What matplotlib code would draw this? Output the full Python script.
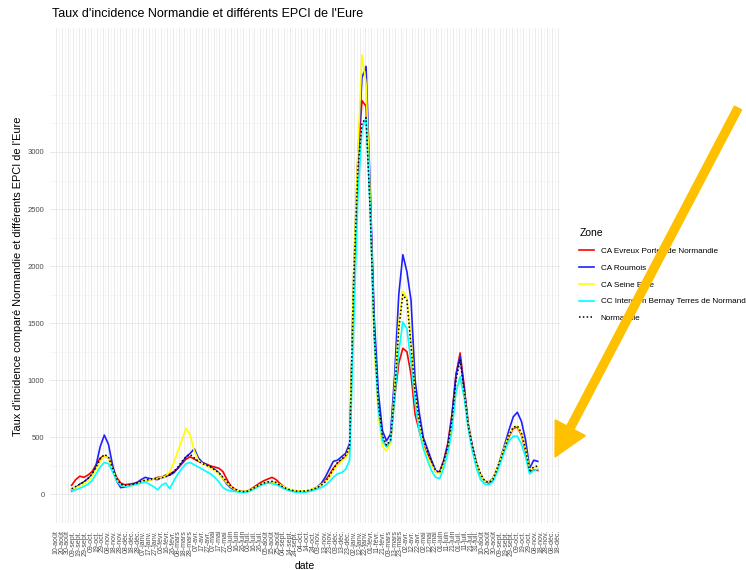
import numpy as np
import matplotlib.pyplot as plt
from matplotlib.patches import FancyArrow
from matplotlib.transforms import Affine2D

plt.rcParams['font.family'] = ['Liberation Sans', 'DejaVu Sans']

# weekly points, 2020-09-06 -> 2022-11-13
dates = np.arange(np.datetime64('2020-09-06'), np.datetime64('2022-11-14'), 7)

normandie = [50, 70, 90, 110, 140, 180, 240, 310, 350, 330,
             230, 140, 90, 80, 85, 90, 100, 115, 125, 130,
             140, 135, 145, 155, 170, 200, 240, 290, 330, 350,
             320, 290, 270, 255, 240, 215, 190, 150, 110, 70,
             45, 30, 25, 30, 45, 65, 85, 100, 110, 115,
             105, 80, 60, 45, 35, 30, 28, 30, 35, 45,
             60, 80, 110, 160, 220, 280, 310, 340, 420, 1900,
             2850, 3250, 3300, 2500, 1400, 800, 520, 430, 480, 900,
             1450, 1750, 1700, 1300, 900, 650, 480, 380, 290, 210,
             190, 290, 420, 650, 1000, 1180, 900, 600, 420, 280,
             180, 120, 105, 130, 220, 320, 420, 520, 590, 600,
             540, 400, 210, 240, 250]

evreux = [80, 130, 160, 150, 170, 200, 260, 320, 340, 320,
          240, 150, 100, 85, 90, 95, 105, 110, 120, 125,
          135, 150, 150, 170, 180, 200, 230, 270, 310, 330,
          310, 290, 280, 265, 250, 240, 230, 200, 130, 70,
          45, 30, 25, 30, 50, 75, 100, 120, 135, 150,
          130, 95, 65, 45, 35, 30, 25, 28, 35, 45,
          60, 85, 120, 170, 230, 270, 300, 330, 400, 1800,
          2900, 3450, 3400, 2600, 1450, 780, 480, 420, 460, 850,
          1150, 1280, 1250, 1050, 700, 560, 430, 350, 270, 200,
          200, 300, 450, 700, 1050, 1240, 950, 620, 420, 270,
          170, 115, 110, 140, 220, 320, 420, 510, 580, 590,
          520, 380, 200, 215, 210]

roumois = [40, 60, 90, 110, 140, 170, 260, 420, 520, 440,
           260, 120, 60, 65, 75, 90, 105, 130, 150, 140,
           135, 130, 150, 160, 170, 190, 230, 280, 330, 360,
           400, 320, 280, 260, 240, 220, 190, 140, 90, 55,
           35, 25, 20, 25, 40, 60, 80, 95, 105, 110,
           100, 75, 55, 40, 30, 25, 22, 25, 30, 45,
           65, 95, 150, 220, 290, 300, 330, 360, 450, 1950,
           2950, 3650, 3750, 2700, 1550, 900, 560, 470, 530, 1050,
           1750, 2100, 1950, 1700, 1000, 720, 500, 400, 300, 210,
           190, 290, 430, 680, 1050, 1210, 920, 600, 420, 270,
           170, 115, 100, 125, 220, 330, 450, 570, 680, 720,
           640, 480, 230, 300, 290]

seine_eure = [45, 60, 75, 95, 120, 160, 220, 290, 340, 320,
              220, 130, 80, 70, 75, 80, 90, 110, 120, 125,
              135, 140, 150, 160, 200, 280, 380, 480, 580, 520,
              380, 300, 270, 250, 230, 210, 180, 140, 100, 65,
              40, 30, 25, 30, 45, 65, 85, 100, 110, 110,
              100, 85, 65, 50, 40, 32, 28, 30, 38, 50,
              65, 85, 110, 150, 210, 260, 290, 320, 420, 2000,
              3000, 3850, 3600, 2600, 1300, 700, 420, 380, 450, 950,
              1500, 1780, 1720, 1350, 850, 600, 420, 330, 260, 200,
              180, 260, 380, 600, 900, 1030, 880, 600, 400, 270,
              170, 115, 110, 135, 225, 325, 430, 520, 590, 600,
              530, 400, 215, 235, 240]

bernay = [25, 40, 55, 70, 90, 120, 180, 240, 280, 270,
          200, 120, 80, 70, 75, 80, 90, 100, 110, 90,
          70, 40, 80, 100, 50, 120, 180, 230, 270, 280,
          260, 240, 220, 200, 180, 150, 110, 60, 40, 30,
          25, 20, 18, 22, 35, 55, 75, 90, 100, 95,
          85, 70, 50, 35, 25, 20, 18, 20, 25, 35,
          45, 60, 80, 110, 150, 180, 190, 220, 300, 1500,
          2600, 3200, 3300, 2500, 1400, 750, 470, 420, 470, 850,
          1250, 1510, 1450, 1150, 800, 560, 400, 300, 210, 150,
          140, 230, 360, 560, 900, 1030, 850, 570, 380, 230,
          130, 90, 85, 110, 190, 290, 390, 470, 510, 510,
          440, 330, 180, 210, 220]

zones = ['CA Evreux Portes de Normandie', 'CA Roumois', 'CA Seine Eure',
         'CC Intercom Bernay Terres de Normandie', 'Normandie']
colors = ['#FF0000', '#2020FF', '#FFFF00', '#00FFFF', 'black']
series = [evreux, roumois, seine_eure, bernay, normandie]

mois = ['janv.', 'févr.', 'mars', 'avr.', 'mai', 'juin', 'juil.',
        'août', 'sept.', 'oct.', 'nov.', 'déc.']
ticks = np.arange(np.datetime64('2020-08-10'), np.datetime64('2022-12-22'), 10)
tick_labels = []
for t in ticks:
    d = t.astype(object)
    tick_labels.append('%02d-%s' % (d.day, mois[d.month - 1]))

fig = plt.figure(figsize=(7.46, 5.70), dpi=100)
ax = fig.add_axes([50/746, 47/570, 510/746, 495/570])

for vals, col, lab in zip(series, colors, zones):
    if lab == 'Normandie':
        ax.plot(dates, vals, color=col, lw=1.1, ls=(0, (1, 1.5)), label=lab)
    else:
        ax.plot(dates, vals, color=col, lw=1.2, label=lab)

ax.set_ylim(-181, 4086)
ax.set_xlim(np.datetime64('2020-07-31'), np.datetime64('2022-12-21'))
ax.set_yticks(range(0, 3001, 500))
ax.set_yticklabels([str(v) for v in range(0, 3001, 500)])
ax.set_yticks(np.arange(-250, 3501, 250), minor=True)
ax.set_xticks(ticks)
ax.set_xticklabels(tick_labels, rotation=90, va='top', ha='center')
ax.set_xticks(ticks[:-1] + np.timedelta64(5, 'D'), minor=True)

ax.grid(which='major', color='#E6E6E6', lw=0.6)
ax.grid(which='minor', color='#F0F0F0', lw=0.4)
ax.set_axisbelow(True)
for s in ax.spines.values():
    s.set_visible(False)
ax.tick_params(which='both', length=0)
ax.tick_params(axis='y', labelsize=5.5, labelcolor='#4D4D4D', pad=4)
ax.tick_params(axis='x', labelsize=5, labelcolor='#4D4D4D', pad=5)

fig.text(52/746, 1 - 14/570, "Taux d'incidence Normandie et différents EPCI de l'Eure",
         fontsize=9, va='center', ha='left')
fig.text(18/746, 1 - 276/570,
         "Taux d'incidence comparé Normandie et différents EPCI de l'Eure",
         fontsize=7.9, rotation=90, va='center', ha='center')
fig.text(305/746, 1 - 566/570, 'date', fontsize=7.5, va='center', ha='center')

handles, labels = ax.get_legend_handles_labels()
fig.legend(handles, labels, title='Zone', loc='upper left',
           bbox_to_anchor=(572/746, 1 - 221/570), frameon=False,
           fontsize=5.9, title_fontsize=7.5, handlelength=1.8,
           handletextpad=0.8, labelspacing=1.1, alignment='left')

# orange arrow drawn over the picture (pixel coordinates, y from bottom)
px = Affine2D().scale(1/100) + fig.dpi_scale_trans
arrow = FancyArrow(738, 570 - 108, -183, -349, width=8, head_width=34,
                   head_length=33, length_includes_head=True,
                   color='#FFC000', transform=px, zorder=10)
fig.add_artist(arrow)

fig.savefig('out.png', dpi=100)
